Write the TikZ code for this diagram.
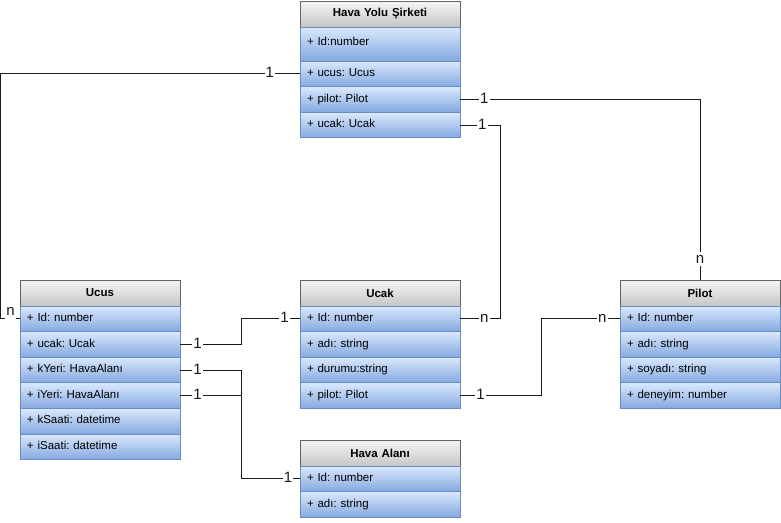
\documentclass[tikz,border=0pt]{standalone}
\usepackage{fontspec}
\setmainfont{Liberation Sans}
\usetikzlibrary{calc}
\definecolor{umlhdrtop}{HTML}{F5F5F5}
\definecolor{umlhdrbot}{HTML}{C6C6C6}
\definecolor{umlhdrline}{HTML}{666666}
\definecolor{umlrowtop}{HTML}{DAE8FC}
\definecolor{umlrowbot}{HTML}{84A9E0}
\definecolor{umlrowline}{HTML}{6C8EBF}
\definecolor{umlink}{HTML}{1A1A1A}
\frenchspacing

\begin{document}
\begin{tikzpicture}[
    x=1pt, y=-1pt,
    every node/.style={font=\fontsize{11.5}{13}\selectfont\frenchspacing},
    hdr/.style ={rectangle, draw=umlhdrline, top color=umlhdrtop, bottom color=umlhdrbot,
                 text width=146pt, inner xsep=7pt, inner ysep=0pt, minimum height=26pt,
                 align=center, font=\fontsize{11.5}{13}\selectfont\bfseries, line width=0.8pt},
    attr/.style={rectangle, draw=umlrowline, top color=umlrowtop, bottom color=umlrowbot,
                 text width=146pt, inner xsep=7pt, inner ysep=0pt, minimum height=25.6pt,
                 text height=8pt, text depth=2.5pt, align=left, line width=0.8pt},
    attrtall/.style={attr, minimum height=34pt, text height=14pt, text depth=12pt},
    link/.style={draw=umlink, line width=1pt},
    mult/.style={fill=white, inner sep=1pt, text height=10pt, text depth=2pt,
                 font=\fontsize{15}{17}\selectfont, text=umlink},
  ]
  \useasboundingbox (0,0) rectangle (781,522);

  % Hava Yolu Sirketi
  \node[hdr]      (HYhead)  at (380,14)    {Hava Yolu Şirketi};
  \node[attrtall] (HYid)    at (380,44)    {+ Id:number};
  \node[attr]     (HYucus)  at (380,73.8)  {+ ucus: Ucus};
  \node[attr]     (HYpilot) at (380,99.4)  {+ pilot: Pilot};
  \node[attr]     (HYucak)  at (380,125)   {+ ucak: Ucak};

  % Ucus
  \node[hdr]  (UChead)  at (100,293)   {Ucus};
  \node[attr] (UCid)    at (100,318.8) {+ Id: number};
  \node[attr] (UCucak)  at (100,344.4) {+ ucak: Ucak};
  \node[attr] (UCkyeri) at (100,370)   {+ kYeri: HavaAlanı};
  \node[attr] (UCiyeri) at (100,395.6) {+ iYeri: HavaAlanı};
  \node[attr] (UCksaat) at (100,421.2) {+ kSaati: datetime};
  \node[attr] (UCisaat) at (100,446.8) {+ iSaati: datetime};

  % Ucak
  \node[hdr]  (UKhead)  at (380,293)   {Ucak};
  \node[attr] (UKid)    at (380,318.8) {+ Id: number};
  \node[attr] (UKadi)   at (380,344.4) {+ adı: string};
  \node[attr] (UKdurum) at (380,370)   {+ durumu:string};
  \node[attr] (UKpilot) at (380,395.6) {+ pilot: Pilot};

  % Pilot
  \node[hdr]  (PIhead)  at (700,293)   {Pilot};
  \node[attr] (PIid)    at (700,318.8) {+ Id: number};
  \node[attr] (PIadi)   at (700,344.4) {+ adı: string};
  \node[attr] (PIsoyad) at (700,370)   {+ soyadı: string};
  \node[attr] (PIdeney) at (700,395.6) {+ deneyim: number};

  % Hava Alani
  \node[hdr]  (HAhead)  at (380,453)   {Hava Alanı};
  \node[attr] (HAid)    at (380,478.8) {+ Id: number};
  \node[attr] (HAadi)   at (380,504.4) {+ adı: string};

  % relations
  \draw[link] (HYucus.west) -- node[mult, pos=0.1] {1} ++(-299,0)
    |- node[mult, pos=0.76, yshift=7pt] {n} (UCid.west);
  \draw[link] (HYpilot.east) -| node[mult, pos=0.05] {1} node[mult, pos=0.944] {n} (PIhead.north);
  \draw[link] (HYucak.east) -- node[mult, pos=0.55] {1} ++(40,0)
    |- node[mult, pos=0.7] {n} (UKid.east);
  \draw[link] (UCucak.east) -- node[mult, pos=0.28] {1} ++(61,0)
    |- node[mult, pos=0.87] {1} (UKid.west);
  \draw[link] (UCkyeri.east) -- node[mult, pos=0.28] {1} ++(61,0)
    |- node[mult, pos=0.9] {1} (HAid.west);
  \draw[link] (UCiyeri.east) -- node[mult, pos=0.28] {1} ++(61,0);
  \draw[link] (UKpilot.east) -- node[mult, pos=0.25] {1} ++(81,0)
    |- node[mult, pos=0.89] {n} (PIid.west);

\end{tikzpicture}
\end{document}
